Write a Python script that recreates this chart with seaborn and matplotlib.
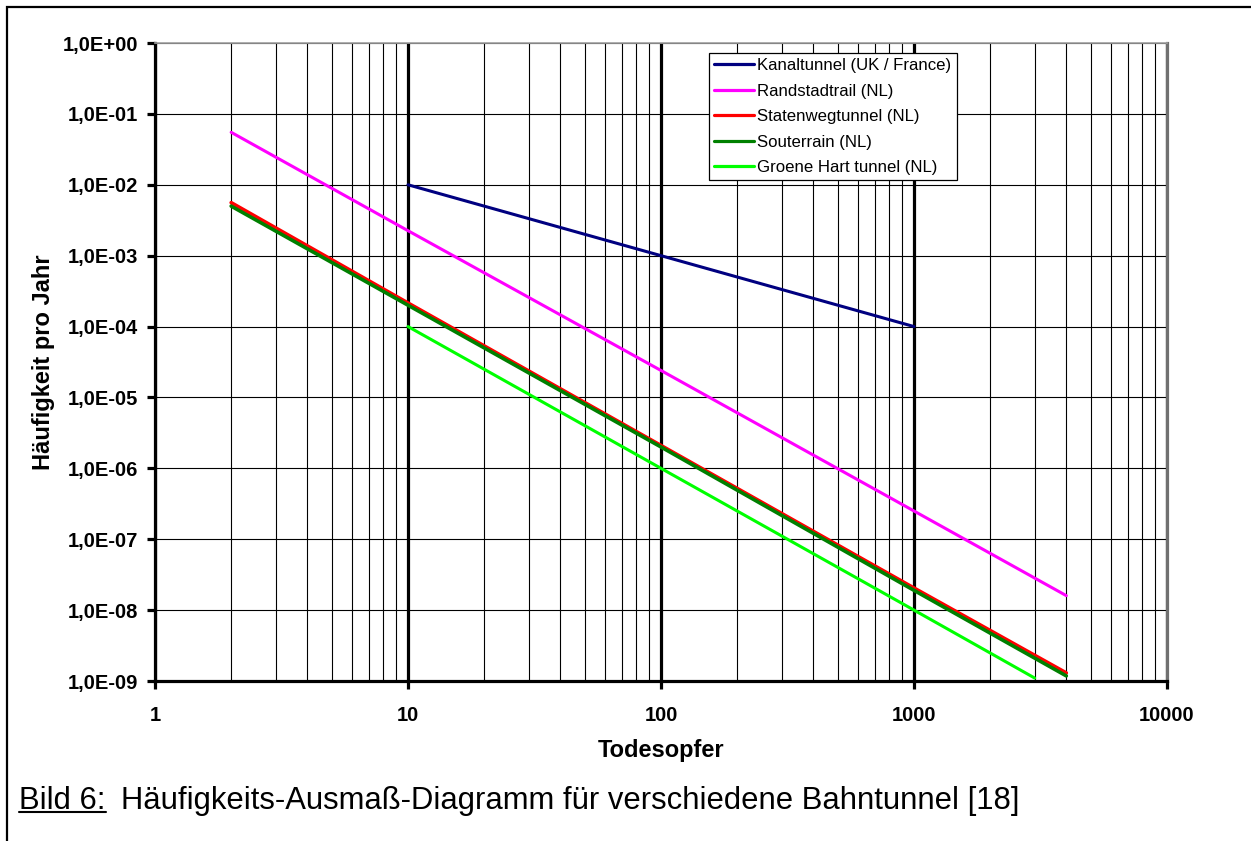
import numpy as np
import pandas as pd
import matplotlib
matplotlib.use("Agg")
import matplotlib.pyplot as plt
import matplotlib.ticker as mticker
from matplotlib.lines import Line2D
from matplotlib.patches import Rectangle
import seaborn as sns

# ---- data ----
kanal_x = [10, 100, 1000]
kanal_y = [1.0e-2, 1.0e-3, 1.0e-4]
rand_x = [2, 10, 100, 1000, 4000]
rand_y = [5.5e-2, 2.25e-3, 2.4e-5, 2.5e-7, 1.6e-8]
staten_x = [2, 10, 100, 1000, 4000]
staten_y = [5.6e-3, 2.15e-4, 2.1e-6, 2.05e-8, 1.3e-9]
souter_x = [2, 10, 100, 1000, 4000]
souter_y = [5.0e-3, 2.0e-4, 2.0e-6, 1.9e-8, 1.18e-9]
groene_x = [10, 100, 1000, 3000]
groene_y = [1.0e-4, 1.0e-6, 1.0e-8, 1.1e-9]

names = ["Kanaltunnel (UK / France)", "Randstadtrail (NL)", "Statenwegtunnel (NL)",
         "Souterrain (NL)", "Groene Hart tunnel (NL)"]
colors = ["#000080", "#FF00FF", "#FF0000", "#008000", "#00FF00"]
widths = [2.2, 2.2, 2.6, 2.6, 2.2]
x_ticks = [1, 10, 100, 1000, 10000]
y_ticks = [1e0, 1e-1, 1e-2, 1e-3, 1e-4, 1e-5, 1e-6, 1e-7, 1e-8, 1e-9]

series = [(kanal_x, kanal_y), (rand_x, rand_y), (staten_x, staten_y),
          (souter_x, souter_y), (groene_x, groene_y)]

sns.set_theme(style="white")
plt.rcParams['font.family'] = ['Liberation Sans', 'DejaVu Sans']
plt.rcParams['text.color'] = 'black'
plt.rcParams['axes.labelcolor'] = 'black'
plt.rcParams['xtick.color'] = 'black'
plt.rcParams['ytick.color'] = 'black'

W, H = 1251, 841
fig = plt.figure(figsize=(W / 100, H / 100), dpi=100)
ax = fig.add_axes([155 / W, 1 - 681 / H, (1167 - 155) / W, (681 - 43) / H])

for (xs, ys), name, c, lw in zip(series, names, colors, widths):
    df = pd.DataFrame({"Todesopfer": xs, "H": ys})
    sns.lineplot(data=df, x="Todesopfer", y="H", ax=ax, color=c, linewidth=lw,
                 label=name, sort=False, estimator=None, zorder=3)

ax.set_xscale("log")
ax.set_yscale("log")
ax.set_xlim(1, 10000)
ax.set_ylim(1e-9, 1)

ax.xaxis.set_major_locator(mticker.FixedLocator(x_ticks))
ax.xaxis.set_minor_locator(mticker.LogLocator(base=10, subs=np.arange(2, 10)))
ax.xaxis.set_major_formatter(mticker.FuncFormatter(lambda v, p: f"{int(round(v))}"))
ax.xaxis.set_minor_formatter(mticker.NullFormatter())
ax.yaxis.set_major_locator(mticker.FixedLocator(y_ticks))
ax.yaxis.set_minor_locator(mticker.NullLocator())
ax.yaxis.set_major_formatter(mticker.FuncFormatter(
    lambda v, p: "1,0E{:+03d}".format(int(round(np.log10(v))))))

ax.set_axisbelow(True)
ax.grid(which="major", axis="y", color="black", linewidth=0.8)
ax.grid(which="major", axis="x", color="black", linewidth=2.3)
ax.grid(which="minor", axis="x", color="black", linewidth=0.8)

for s in ["left", "bottom"]:
    ax.spines[s].set_color("black")
    ax.spines[s].set_linewidth(2.3)
ax.spines["top"].set_color("#A0A0A0")
ax.spines["top"].set_linewidth(1.2)
ax.spines["right"].set_color("#707070")
ax.spines["right"].set_linewidth(2.3)

ax.tick_params(axis="y", which="major", direction="out", length=6, width=2.3,
               color="black", left=True, pad=6, labelsize=14.5, labelcolor="black")
ax.tick_params(axis="x", which="major", direction="out", length=6, width=2.3,
               color="black", bottom=True, pad=12, labelsize=14.5, labelcolor="black")
ax.tick_params(axis="x", which="minor", length=0)
for lab in ax.get_xticklabels() + ax.get_yticklabels():
    lab.set_fontweight("bold")

ax.set_xlabel("Todesopfer", fontsize=17, fontweight="bold", labelpad=10, color="black")
ax.set_ylabel("Häufigkeit pro Jahr", fontsize=17, fontweight="bold", labelpad=5.5, color="black")

leg = ax.legend(loc="upper left", bbox_to_anchor=((709 - 155) / 1012, (681 - 53) / 638),
                borderaxespad=0, fontsize=12.1, frameon=True, fancybox=False,
                handlelength=2.35, handletextpad=0.2, labelspacing=0.62,
                borderpad=0.32, framealpha=1)
leg.get_frame().set_edgecolor("black")
leg.get_frame().set_linewidth(0.9)
for t in leg.get_texts():
    t.set_color("black")
for h in leg.get_lines():
    h.set_linewidth(2.3)

# outer border
fig.add_artist(Rectangle((7 / W, -0.05), 1.2, 1 - 7 / H + 0.05, transform=fig.transFigure,
                         fill=False, edgecolor="black", linewidth=1.6))

# caption
t1 = fig.text(19 / W, 1 - 809 / H, "Bild 6:", fontsize=22.3, ha="left", va="baseline",
              color="black")
fig.canvas.draw()
bb = t1.get_window_extent()
fig.add_artist(Line2D([bb.x0 / W, bb.x1 / W], [(H - 812) / H, (H - 812) / H],
                      transform=fig.transFigure, color="black", linewidth=1.5))
fig.text(121 / W, 1 - 809 / H,
         "Häufigkeits-Ausmaß-Diagramm für verschiedene Bahntunnel [18]",
         fontsize=22.3, ha="left", va="baseline", color="black")

fig.savefig("out.png", dpi=100)
